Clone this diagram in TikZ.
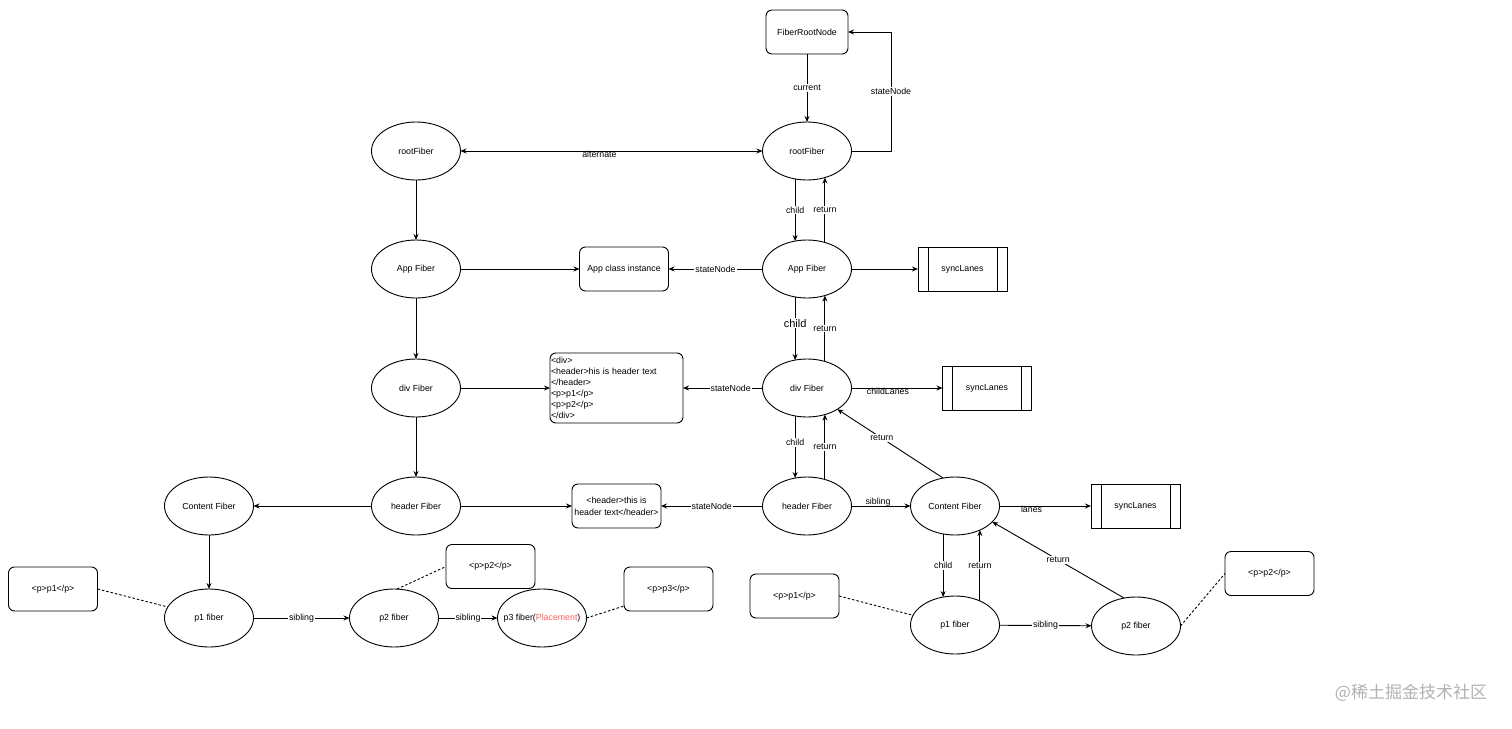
\documentclass[tikz,border=0pt]{standalone}
\usepackage{fontspec}
\setmainfont{Liberation Sans}
\newfontfamily\cjkwm{Noto Sans CJK SC}
\usetikzlibrary{shapes.geometric,arrows.meta}
\newcommand\dfont{\fontsize{8.8}{11}\selectfont}
\definecolor{plc}{RGB}{255,96,96}
\tikzset{
  >={Stealth[length=6pt,width=5pt,inset=2pt]},
  fbase/.style={font=\dfont, outer sep=0pt, line width=0.9pt},
  fib/.style={fbase, ellipse, draw, minimum width=89pt, minimum height=58pt, inner sep=0pt},
  rbox/.style={fbase, draw, rounded corners=6pt, minimum width=89pt, minimum height=44pt, inner sep=1pt, align=center},
  proc/.style={fbase, draw, minimum width=89pt, minimum height=44pt, inner sep=1pt,
    path picture={
      \draw[line width=0.9pt] ([xshift=10pt]path picture bounding box.north west) -- ([xshift=10pt]path picture bounding box.south west);
      \draw[line width=0.9pt] ([xshift=-10pt]path picture bounding box.north east) -- ([xshift=-10pt]path picture bounding box.south east);
    }},
  conn/.style={line width=0.9pt, ->},
  conn2/.style={line width=0.9pt, <->},
  dotl/.style={line width=0.9pt, dash pattern=on 2.5pt off 2pt},
  lbl/.style={font=\dfont, fill=white, inner sep=1pt},
  plainlbl/.style={font=\dfont, inner sep=1pt},
}
\begin{document}
\begin{tikzpicture}[x=1pt,y=-1pt]
\fill[white] (0,0) rectangle (1512,728);
\useasboundingbox (0,0) rectangle (1512,728);

% fibers
\node[rbox, minimum width=82pt] (frn) at (807,32) {FiberRootNode};
\node[fib] (rfR) at (807,151) {rootFiber};
\node[fib] (rfL) at (416,151) {rootFiber};
\node[fib] (appL) at (416,269) {App Fiber};
\node[fib] (divL) at (416,388) {div Fiber};
\node[fib] (hdrL) at (416,506) {header Fiber};
\node[fib] (cntL) at (209,506) {Content Fiber};
\node[fib] (p1L) at (209,618) {p1 fiber};
\node[fib] (p2L) at (394,618) {p2 fiber};
\node[fib] (p3L) at (542,618) {\makebox[0pt]{p3 fiber(\textcolor{plc}{Placement})}};
\node[fib] (appR) at (807,269) {App Fiber};
\node[fib] (divR) at (807,388) {div Fiber};
\node[fib] (hdrR) at (807,506) {header Fiber};
\node[fib] (cntR) at (955,506) {Content Fiber};
\node[fib] (p1R) at (955,625) {p1 fiber};
\node[fib] (p2R) at (1136,626) {p2 fiber};

% boxes
\node[rbox] (aci) at (624,269) {App class instance};
\node[rbox, minimum width=133pt, minimum height=70pt, align=left, text width=131pt] (divbox) at (616.5,388)
  {<div>\\<header>his is header text\\</header>\\<p>p1</p>\\<p>p2</p>\\</div>};
\node[rbox, font=\fontsize{8.8}{12}\selectfont] (hbox) at (616.5,506) {<header>this is\\header text</header>};
\node[proc] (sl1) at (962.5,269) {syncLanes};
\node[proc] (sl2) at (987,388) {syncLanes};
\node[proc] (sl3) at (1135.5,506) {syncLanes};
\node[rbox] (pp1L) at (53,589) {<p>p1</p>};
\node[rbox] (pp2L) at (490.5,566.5) {<p>p2</p>};
\node[rbox] (pp3L) at (668.5,589) {<p>p3</p>};
\node[rbox] (pp1R) at (794.5,596) {<p>p1</p>};
\node[rbox] (pp2R) at (1269.5,573.5) {<p>p2</p>};

% top connectors
\draw[conn] (frn) -- node[lbl]{current} (rfR);
\coordinate (sn1) at (891,151);
\coordinate (sn2) at (891,32);
\draw[conn] (rfR.east) -- (sn1) -- node[lbl]{stateNode} (sn2) -- (frn.east);
\draw[conn2] (rfL) -- node[plainlbl, pos=0.46, yshift=-3pt]{alternate} (rfR);

% left column
\draw[conn] (rfL) -- (appL);
\draw[conn] (appL) -- (divL);
\draw[conn] (divL) -- (hdrL);
\draw[conn] (cntL) -- (p1L);
\draw[conn] (appL) -- (aci);
\draw[conn] (divL) -- (divbox);
\draw[conn] (hdrL) -- (hbox);
\draw[conn] (hdrL) -- (cntL);
\draw[conn] (p1L) -- node[lbl]{sibling} (p2L);
\draw[conn] (p2L) -- node[lbl]{sibling} (p3L);
\draw[dotl] (pp1L.east) -- (p1L.165);
\draw[dotl] (p2L.84) -- (pp2L.west);
\draw[dotl] (p3L.east) -- ([yshift=-17pt]pp3L.west);

% right column
\draw[conn] (rfR.-113) -- node[lbl]{child} (appR.113);
\draw[conn] (appR.56) -- node[lbl]{return} (rfR.-56);
\draw[conn] (appR) -- node[lbl]{stateNode} (aci);
\draw[conn] (appR) -- (sl1);
\draw[conn] (appR.-113) -- node[lbl, pos=0.42, font=\fontsize{11}{13}\selectfont]{child} (divR.113);
\draw[conn] (divR.56) -- node[lbl]{return} (appR.-56);
\draw[conn] (divR) -- node[lbl, pos=0.4]{stateNode} (divbox);
\draw[conn] (divR) -- node[plainlbl, pos=0.4, yshift=-3pt]{childLanes} (sl2);
\draw[conn] (divR.-113) -- node[lbl, pos=0.43]{child} (hdrR.113);
\draw[conn] (hdrR.56) -- node[lbl]{return} (divR.-56);
\draw[conn] (hdrR) -- node[lbl]{stateNode} (hbox);
\draw[conn] (hdrR) -- node[plainlbl, pos=0.45, yshift=4pt]{sibling} (cntR);
\draw[conn] (cntR) -- node[plainlbl, pos=0.35, yshift=-3pt]{lanes} (sl3);
\draw[conn] (cntR.113) -- node[lbl, pos=0.58]{return} (divR.-35);
\draw[conn] (cntR.-113) -- node[lbl]{child} (p1R.113);
\draw[conn] (p1R.44) -- node[lbl]{return} (cntR.-44);
\draw[conn] (p2R.113) -- node[lbl]{return} (cntR.-23);
\draw[conn] (p1R) -- node[lbl]{sibling} (p2R);
\draw[dotl] (pp1R.east) -- (p1R.167);
\draw[dotl] (p2R.east) -- (pp2R.west);

% watermark
\node[font=\cjkwm\fontsize{17}{17}\selectfont, text=black!30, inner sep=0pt] (wm) at (1411,693) {@稀土掘金技术社区};
\end{tikzpicture}
\end{document}
